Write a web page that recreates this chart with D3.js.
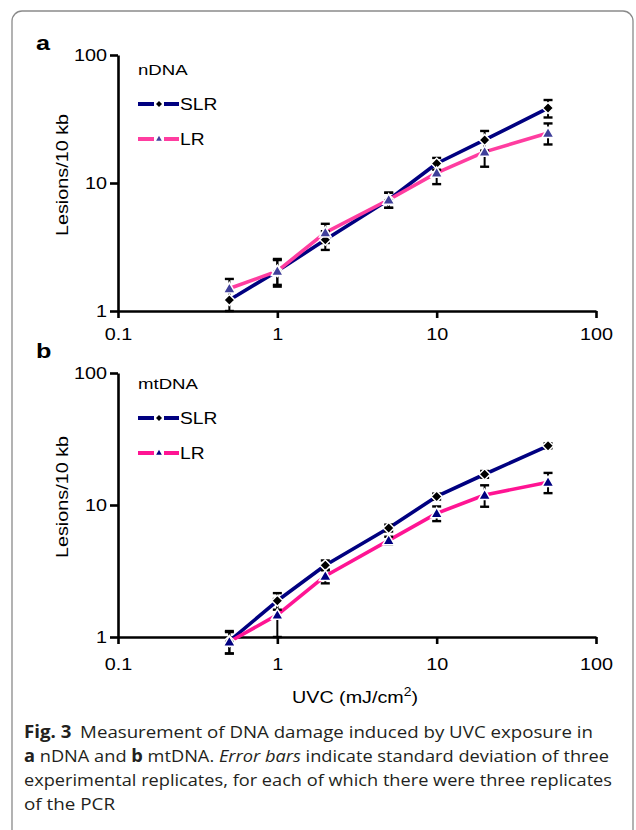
<!DOCTYPE html>
<html><head><meta charset="utf-8">
<script src="https://cdn.jsdelivr.net/npm/d3@7/dist/d3.min.js"></script>
<style>
html,body{margin:0;padding:0;background:#fff;}
svg{display:block;}
</style></head>
<body>
<svg id="chart" width="636" height="830"></svg>
<script>
// ---- data ----
const doses = [0.5, 1, 2, 5, 10, 20, 50];
const xTicks = [0.1, 1, 10, 100];
const yTicks = [1, 10, 100];
const seriesNames = ["SLR", "LR"];
// panel a: nDNA
const nSLR = [1.22, 2.05, 3.6, 7.4, 14.2, 21.7, 38.5];
const nSLRerr = [0.22, 0.45, 0.6, 1.0, 1.5, 3.8, 6.0];
const nLR = [1.5, 2.05, 4.1, 7.4, 12.0, 17.5, 24.6];
const nLRerr = [0.28, 0.5, 0.7, 1.0, 2.2, 4.1, 4.6];
// panel b: mtDNA
const mSLR = [0.93, 1.88, 3.5, 6.7, 11.6, 17.1, 28.1];
const mSLRerr = [0.18, 0.27, 0.3, 0.4, 0.6, 1.0, 1.2];
const mLR = [0.92, 1.47, 2.9, 5.4, 8.65, 11.9, 14.9];
const mLRerr = [0.17, 0.47, 0.35, 0.35, 1.1, 2.2, 2.6];
const captionLines = [
  "Measurement of DNA damage induced by UVC exposure in",
  " indicate standard deviation of three",
  "experimental replicates, for each of which there were three replicates",
  "of the PCR"
];

const svg = d3.select("#chart");
const font = "'Liberation Sans', Arial, sans-serif";
const STRETCH = 1.2;
function stretch(sel, k) {
  sel.each(function () {
    const L = this.getComputedTextLength();
    d3.select(this).attr("textLength", L * k).attr("lengthAdjust", "spacingAndGlyphs");
  });
}

// frame
svg.append("rect").attr("x", 12).attr("y", 11).attr("width", 621).attr("height", 830)
  .attr("rx", 10).attr("fill", "none").attr("stroke", "#8a8a8a").attr("stroke-width", 1.3);

const x = d3.scaleLog().domain([0.1, 100]).range([118, 596]);

function diamondPath(r){ return `M0,${-r}L${r},0L0,${r}L${-r},0Z`; }
const triPath = d3.symbol().type(d3.symbolTriangle).size(62)();

function panel(cfg){
  const y = d3.scaleLog().domain([1, 100]).range([cfg.y0, cfg.y1]);
  const g = svg.append("g");

  // axes
  const ax = g.append("g").attr("transform", `translate(0,${cfg.y0})`)
    .call(d3.axisBottom(x).tickValues(xTicks).tickFormat(d => String(d)).tickSize(7).tickSizeOuter(0).tickPadding(cfg.xpad));
  const ay = g.append("g").attr("transform", `translate(${x(0.1)},0)`)
    .call(d3.axisLeft(y).tickValues(yTicks).tickFormat(d => String(d)).tickSize(8).tickSizeOuter(0).tickPadding(3));
  [ax, ay].forEach(a => {
    a.select(".domain").attr("stroke", "#000").attr("stroke-width", 2.6);
    a.selectAll(".tick line").attr("stroke", "#000").attr("stroke-width", 2.6);
    a.selectAll(".tick text").attr("fill", "#000").attr("font-family", font).attr("font-size", 16.5);
  });

  // y title
  g.append("text").attr("transform", `translate(68,${(cfg.y0 + cfg.y1) / 2 - 8}) rotate(-90)`)
    .attr("text-anchor", "middle").attr("font-family", font).attr("font-size", 16.5).text("Lesions/10 kb");

  // panel letter
  g.append("text").attr("x", 36).attr("y", cfg.letterY).attr("font-family", font)
    .attr("font-size", 21).attr("font-weight", "bold").text(cfg.letter);

  const line = d3.line().x((d, i) => x(doses[i])).y(d => y(d));
  const series = [
    {vals: cfg.slr, err: cfg.slrErr, color: "#000080", marker: "diamond", mfill: "#000"},
    {vals: cfg.lr, err: cfg.lrErr, color: cfg.lrColor, marker: "tri", mfill: cfg.triColor}
  ];
  series.forEach(s => {
    g.append("path").datum(s.vals).attr("d", line).attr("fill", "none")
      .attr("stroke", s.color).attr("stroke-width", 3.6).attr("stroke-linejoin", "round");
  });
  // error bars
  series.forEach(s => {
    const eb = g.append("g");
    s.vals.forEach((v, i) => {
      const cx = x(doses[i]);
      const yt = y(v + s.err[i]), yb = y(v - s.err[i]);
      eb.append("line").attr("x1", cx).attr("x2", cx).attr("y1", yt).attr("y2", yb)
        .attr("stroke", "#000").attr("stroke-width", 2);
      [yt, yb].forEach(yy => eb.append("line").attr("x1", cx - 4.5).attr("x2", cx + 4.5)
        .attr("y1", yy).attr("y2", yy).attr("stroke", "#000").attr("stroke-width", 2.4));
    });
  });
  // markers
  series.forEach(s => {
    s.vals.forEach((v, i) => {
      g.append("path").attr("transform", `translate(${x(doses[i])},${y(v) + (s.marker === "tri" ? 1 : 0)})`)
        .attr("d", s.marker === "diamond" ? diamondPath(5.5) : triPath)
        .attr("fill", s.mfill).attr("stroke", "#fff").attr("stroke-width", 1.5);
    });
  });

  // legend
  const lg = g.append("g");
  lg.append("text").attr("x", 138).attr("y", cfg.legY).attr("font-family", font).attr("font-size", 15.5).text(cfg.title);
  series.forEach((s, k) => {
    const ly = cfg.legY + 29 + k * 35;
    lg.append("line").attr("x1", 138).attr("x2", 154).attr("y1", ly).attr("y2", ly)
      .attr("stroke", s.color).attr("stroke-width", 4);
    lg.append("line").attr("x1", 164).attr("x2", 179).attr("y1", ly).attr("y2", ly)
      .attr("stroke", s.color).attr("stroke-width", 4);
    lg.append("path").attr("transform", `translate(159,${ly})`)
      .attr("d", s.marker === "diamond" ? diamondPath(3) : d3.symbol().type(d3.symbolTriangle).size(14)())
      .attr("fill", s.mfill);
    lg.append("text").attr("x", 180).attr("y", ly + 6).attr("font-family", font).attr("font-size", 16).text(seriesNames[k]);
  });
  stretch(g.selectAll("text"), STRETCH);
  return g;
}

panel({y0: 311, y1: 55, xpad: 10, letter: "a", letterY: 50, title: "nDNA", legY: 75,
  slr: nSLR, slrErr: nSLRerr, lr: nLR, lrErr: nLRerr, lrColor: "#ff3da0", triColor: "#40409a"});
panel({y0: 637, y1: 373, xpad: 14, letter: "b", letterY: 358, title: "mtDNA", legY: 389,
  slr: mSLR, slrErr: mSLRerr, lr: mLR, lrErr: mLRerr, lrColor: "#ff1493", triColor: "#000080"});

// x title
const xt = svg.append("text").attr("x", 292).attr("y", 703).attr("font-family", font).attr("font-size", 17);
xt.append("tspan").text("UVC (mJ/cm");
xt.append("tspan").attr("font-size", 12).attr("dy", -7).text("2");
xt.append("tspan").attr("dy", 7).text(")");
xt.attr("textLength", 126).attr("lengthAdjust", "spacingAndGlyphs");

// caption
const capFont = "'Open Sans', 'Noto Sans', sans-serif";
const cap = svg.append("g").attr("font-family", capFont).attr("font-size", 17.2).attr("fill", "#231f20");
const l1 = cap.append("text").attr("x", 24).attr("y", 738);
l1.append("tspan").attr("font-weight", "bold").text("Fig. 3");
l1.append("tspan").attr("dx", 8).text(captionLines[0]);
l1.attr("textLength", 569).attr("lengthAdjust", "spacingAndGlyphs");
const l2 = cap.append("text").attr("x", 24).attr("y", 762);
l2.append("tspan").attr("font-weight", "bold").text("a");
l2.append("tspan").text(" nDNA and ");
l2.append("tspan").attr("font-weight", "bold").text("b");
l2.append("tspan").text(" mtDNA. ");
l2.append("tspan").attr("font-style", "italic").text("Error bars");
l2.append("tspan").text(captionLines[1]);
l2.attr("textLength", 585).attr("lengthAdjust", "spacingAndGlyphs");
cap.append("text").attr("x", 24).attr("y", 786).text(captionLines[2])
  .attr("textLength", 588).attr("lengthAdjust", "spacingAndGlyphs");
cap.append("text").attr("x", 24).attr("y", 810).text(captionLines[3])
  .attr("textLength", 91).attr("lengthAdjust", "spacingAndGlyphs");
</script>
</body></html>
